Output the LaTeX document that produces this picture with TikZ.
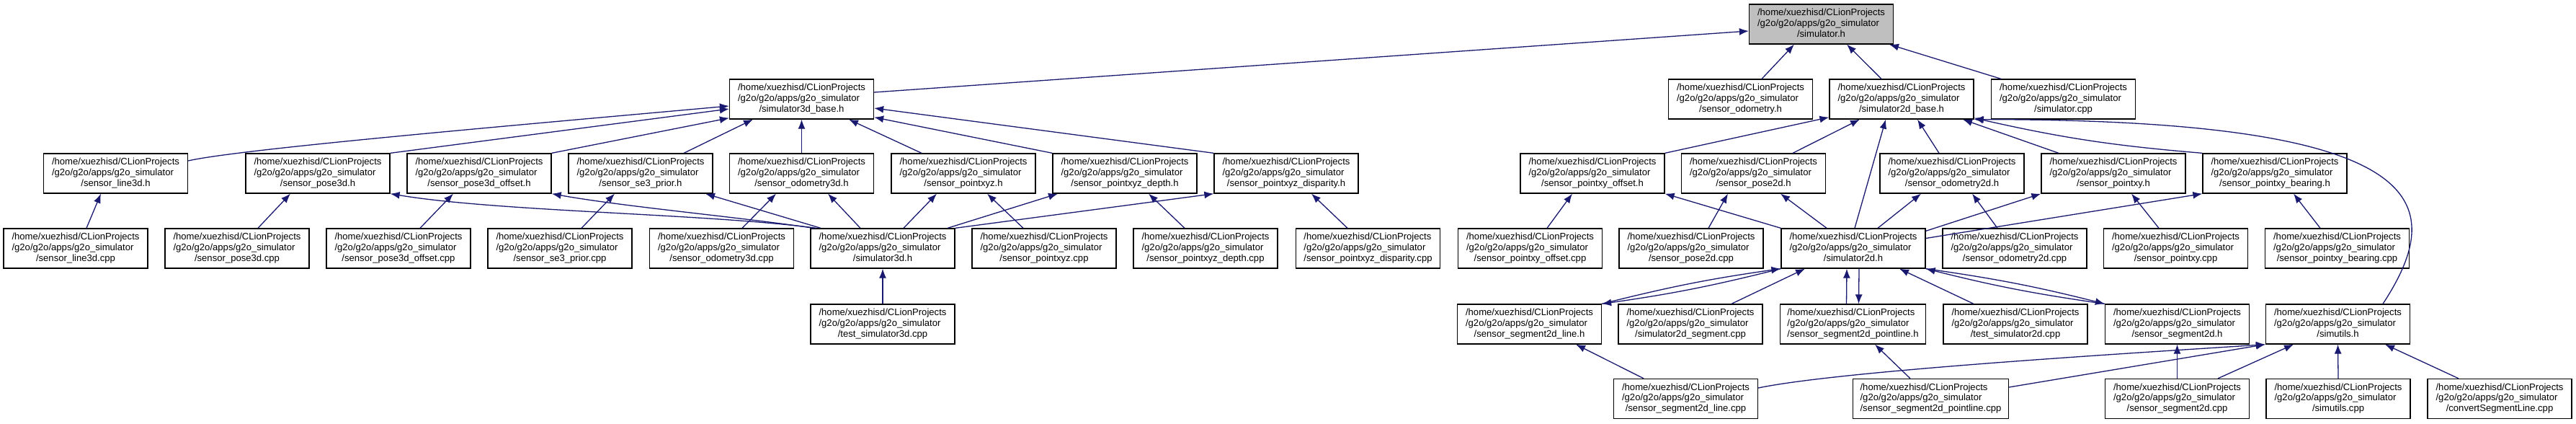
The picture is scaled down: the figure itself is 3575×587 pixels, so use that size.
\documentclass[tikz,border=0pt]{standalone}
\usepackage{fontspec}
\setmainfont{Liberation Sans}
\usetikzlibrary{arrows.meta}
\definecolor{depblue}{HTML}{191970}
\definecolor{curgray}{HTML}{BFBFBF}
\newcommand\incfile[1]{\begin{tabular}{@{}l@{}}/home/xuezhisd/CLionProjects\\/g2o/g2o/apps/g2o\_simulator\\\multicolumn{1}{@{}c@{}}{/#1}\end{tabular}}

\begin{document}
\begin{tikzpicture}[x=1pt,y=1pt,
    hfile/.style={draw=black,line width=1.3pt,fill=white,minimum width=200pt,minimum height=55pt,
      inner xsep=10pt,inner ysep=2pt,font=\fontsize{13.1}{14.6}\selectfont},
    dep/.style={draw=depblue,line width=1.3pt,-{Latex[length=13pt,width=10pt]}}]
  \useasboundingbox (0,0) rectangle (3575,-587);

  % row 1 and 2
  \node[hfile,fill=curgray] (sim) at (2527.5,-33.5) {\incfile{simulator.h}};
  \node[hfile] (s3b) at (1112.5,-137.5) {\incfile{simulator3d\_base.h}};
  \node[hfile] (sodo) at (2415.5,-137.5) {\incfile{sensor\_odometry.h}};
  \node[hfile] (s2b) at (2639,-137.5) {\incfile{simulator2d\_base.h}};
  \node[hfile] (simcpp) at (2863.5,-137.5) {\incfile{simulator.cpp}};

  % row 3
  \node[hfile] (sl3h) at (160.5,-240.5) {\incfile{sensor\_line3d.h}};
  \node[hfile] (sp3h) at (441,-240.5) {\incfile{sensor\_pose3d.h}};
  \node[hfile] (sp3oh) at (665,-240.5) {\incfile{sensor\_pose3d\_offset.h}};
  \node[hfile] (sse3h) at (889,-240.5) {\incfile{sensor\_se3\_prior.h}};
  \node[hfile] (so3h) at (1112.5,-240.5) {\incfile{sensor\_odometry3d.h}};
  \node[hfile] (sxyzh) at (1337,-240.5) {\incfile{sensor\_pointxyz.h}};
  \node[hfile] (sxyzdh) at (1561,-240.5) {\incfile{sensor\_pointxyz\_depth.h}};
  \node[hfile] (sxyzph) at (1785,-240.5) {\incfile{sensor\_pointxyz\_disparity.h}};
  \node[hfile] (sxyoh) at (2210,-240.5) {\incfile{sensor\_pointxy\_offset.h}};
  \node[hfile] (sp2h) at (2433.5,-240.5) {\incfile{sensor\_pose2d.h}};
  \node[hfile] (so2h) at (2709,-240.5) {\incfile{sensor\_odometry2d.h}};
  \node[hfile] (sxyh) at (2933,-240.5) {\incfile{sensor\_pointxy.h}};
  \node[hfile] (sxybh) at (3157,-240.5) {\incfile{sensor\_pointxy\_bearing.h}};

  % row 4
  \node[hfile] (sl3c) at (105,-344.5) {\incfile{sensor\_line3d.cpp}};
  \node[hfile] (sp3c) at (329,-344.5) {\incfile{sensor\_pose3d.cpp}};
  \node[hfile] (sp3oc) at (553,-344.5) {\incfile{sensor\_pose3d\_offset.cpp}};
  \node[hfile] (sse3c) at (777,-344.5) {\incfile{sensor\_se3\_prior.cpp}};
  \node[hfile] (so3c) at (1001.5,-344.5) {\incfile{sensor\_odometry3d.cpp}};
  \node[hfile] (s3h) at (1225,-344.5) {\incfile{simulator3d.h}};
  \node[hfile] (sxyzc) at (1449,-344.5) {\incfile{sensor\_pointxyz.cpp}};
  \node[hfile] (sxyzdc) at (1673,-344.5) {\incfile{sensor\_pointxyz\_depth.cpp}};
  \node[hfile] (sxyzpc) at (1898.5,-344.5) {\incfile{sensor\_pointxyz\_disparity.cpp}};
  \node[hfile] (sxyoc) at (2123.5,-344.5) {\incfile{sensor\_pointxy\_offset.cpp}};
  \node[hfile] (sp2c) at (2347,-344.5) {\incfile{sensor\_pose2d.cpp}};
  \node[hfile] (s2h) at (2572,-344.5) {\incfile{simulator2d.h}};
  \node[hfile] (so2c) at (2796,-344.5) {\incfile{sensor\_odometry2d.cpp}};
  \node[hfile] (sxyc) at (3019.5,-344.5) {\incfile{sensor\_pointxy.cpp}};
  \node[hfile] (sxybc) at (3243.5,-344.5) {\incfile{sensor\_pointxy\_bearing.cpp}};

  % row 5
  \node[hfile] (ts3c) at (1225,-449.5) {\incfile{test\_simulator3d.cpp}};
  \node[hfile] (ss2lh) at (2122.5,-449.5) {\incfile{sensor\_segment2d\_line.h}};
  \node[hfile] (s2segc) at (2346,-449.5) {\incfile{simulator2d\_segment.cpp}};
  \node[hfile] (ss2plh) at (2571.5,-449.5) {\incfile{sensor\_segment2d\_pointline.h}};
  \node[hfile] (ts2c) at (2797,-449.5) {\incfile{test\_simulator2d.cpp}};
  \node[hfile] (ss2h) at (3021.5,-449.5) {\incfile{sensor\_segment2d.h}};
  \node[hfile] (sutilh) at (3244.5,-449.5) {\incfile{simutils.h}};

  % row 6
  \node[hfile] (ss2lc) at (2339.5,-553) {\incfile{sensor\_segment2d\_line.cpp}};
  \node[hfile] (ss2plc) at (2679.5,-553) {\incfile{sensor\_segment2d\_pointline.cpp}};
  \node[hfile] (ss2c) at (3021.5,-553) {\incfile{sensor\_segment2d.cpp}};
  \node[hfile] (sutilc) at (3245,-553) {\incfile{simutils.cpp}};
  \node[hfile] (cslc) at (3469,-553) {\incfile{convertSegmentLine.cpp}};

  % includes of simulator.h
  \draw[dep] ([yshift=9.5pt]s3b.east) -- ([yshift=-9.5pt]sim.west);
  \draw[dep] ([xshift=29.5pt]sodo.north) -- ([xshift=-37.5pt]sim.south);
  \draw[dep] ([xshift=-28pt]s2b.north) -- ([xshift=35.5pt]sim.south);
  \draw[dep] ([xshift=-86.5pt]simcpp.north) -- ([xshift=94.5pt]sim.south);

  % 3d side
  \draw[dep] ([yshift=17.5pt]sl3h.east) .. controls +(70,16) and +(-312,-28) .. ([yshift=-9.5pt]s3b.west);
  \draw[dep] (sp3h.north east) -- ([yshift=-13.5pt]s3b.west);
  \draw[dep] (sp3oh.north east) -- ([yshift=2pt]s3b.south west);
  \draw[dep] ([xshift=60pt]sse3h.north) -- ([xshift=-67.5pt]s3b.south);
  \draw[dep] (so3h.north) -- (s3b.south);
  \draw[dep] ([xshift=-58pt]sxyzh.north) -- ([xshift=65.5pt]s3b.south);
  \draw[dep] (sxyzdh.north west) -- ([yshift=3pt]s3b.south east);
  \draw[dep] (sxyzph.north west) -- ([yshift=-12.5pt]s3b.east);

  \draw[dep] ([xshift=15pt]sl3c.north) -- ([xshift=-20.5pt]sl3h.south);
  \draw[dep] ([xshift=29pt]sp3c.north) -- ([xshift=-38pt]sp3h.south);
  \draw[dep] ([xshift=30pt]sp3oc.north) -- ([xshift=-36pt]sp3oh.south);
  \draw[dep] ([xshift=30pt]sse3c.north) -- ([xshift=-36pt]sse3h.south);
  \draw[dep] ([xshift=28.5pt]so3c.north) -- ([xshift=-35.5pt]so3h.south);
  \draw[dep] ([xshift=-92pt]s3h.north) .. controls +(-150,20) and +(150,-25) .. (sp3h.south east);
  \draw[dep] ([xshift=-96pt]s3h.north) .. controls +(-100,15) and +(100,-18) .. (sp3oh.south east);
  \draw[dep] ([xshift=-86pt]s3h.north) -- ([xshift=90pt]sse3h.south);
  \draw[dep] ([xshift=-31pt]s3h.north) -- ([xshift=36.5pt]so3h.south);
  \draw[dep] ([xshift=29pt]s3h.north) -- ([xshift=-37pt]sxyzh.south);
  \draw[dep] ([xshift=-29pt]sxyzc.north) -- ([xshift=33pt]sxyzh.south);
  \draw[dep] ([xshift=90pt]s3h.north) -- ([xshift=-93pt]sxyzdh.south);
  \draw[dep] ([xshift=-29pt]sxyzdc.north) -- ([xshift=33pt]sxyzdh.south);
  \draw[dep] (s3h.north east) -- (sxyzph.south west);
  \draw[dep] ([xshift=-28.5pt]sxyzpc.north) -- ([xshift=35pt]sxyzph.south);
  \draw[dep] (ts3c.north) -- (s3h.south);

  % 2d side
  \draw[dep] (sxyoh.north east) -- ([yshift=3pt]s2b.south west);
  \draw[dep] ([xshift=54.5pt]sp2h.north) -- ([xshift=-58pt]s2b.south);
  \draw[dep] ([xshift=2pt]s2h.north) -- ([xshift=-22pt]s2b.south);
  \draw[dep] ([xshift=-18pt]so2h.north) -- ([xshift=22pt]s2b.south);
  \draw[dep] ([xshift=-76pt]sxyh.north) -- ([xshift=85pt]s2b.south);
  \draw[dep] (sxybh.north west) to[bend left=4] ([yshift=2pt]s2b.south east);
  \draw[dep] ([xshift=62.5pt]sutilh.north) .. controls +(93,142) and +(635,0) .. (s2b.south east);

  \draw[dep] ([xshift=23.5pt]sxyoc.north) -- ([xshift=-28pt]sxyoh.south);
  \draw[dep] (s2h.north west) -- (sxyoh.south east);
  \draw[dep] ([xshift=24pt]sp2c.north) -- ([xshift=-35.5pt]sp2h.south);
  \draw[dep] ([xshift=-37pt]s2h.north) -- ([xshift=37.5pt]sp2h.south);
  \draw[dep] ([xshift=34pt]s2h.north) -- ([xshift=-43pt]so2h.south);
  \draw[dep] ([xshift=-24pt]so2c.north) -- ([xshift=28pt]so2h.south);
  \draw[dep] ([yshift=-4pt]s2h.north east) -- (sxyh.south west);
  \draw[dep] ([yshift=14pt]s2h.east) -- (sxybh.south west);
  \draw[dep] ([xshift=-23.5pt]sxyc.north) -- ([xshift=25pt]sxyh.south);
  \draw[dep] ([xshift=-23.5pt]sxybc.north) -- ([xshift=26pt]sxybh.south);

  \draw[dep] (ss2lh.north east) to[bend left=3] (s2h.south west);
  \draw[dep] (s2h.south west) to[bend left=3] (ss2lh.north east);
  \draw[dep] ([xshift=57pt]s2segc.north) -- ([xshift=-67pt]s2h.south);
  \draw[dep] ([xshift=-9pt]ss2plh.north) -- ([xshift=-9pt]s2h.south);
  \draw[dep] ([xshift=8pt]s2h.south) -- ([xshift=8pt]ss2plh.north);
  \draw[dep] ([xshift=-58pt]ts2c.north) -- ([xshift=64pt]s2h.south);
  \draw[dep] (ss2h.north west) to[bend left=3] (s2h.south east);
  \draw[dep] (s2h.south east) to[bend left=3] (ss2h.north west);

  \draw[dep] ([xshift=-58.5pt]ss2lc.north) -- ([xshift=64.5pt]ss2lh.south);
  \draw[dep] ([yshift=15pt]ss2lc.east) .. controls +(120,25) and +(-150,-10) .. (sutilh.south west);
  \draw[dep] ([xshift=-28.5pt]ss2plc.north) -- ([xshift=30.5pt]ss2plh.south);
  \draw[dep] ([yshift=16pt]ss2plc.east) -- (sutilh.south west);
  \draw[dep] (ss2c.north) -- (ss2h.south);
  \draw[dep] ([xshift=56.5pt]ss2c.north) -- ([xshift=-61.5pt]sutilh.south);
  \draw[dep] (sutilc.north) -- (sutilh.south);
  \draw[dep] ([xshift=-57pt]cslc.north) -- ([xshift=65.5pt]sutilh.south);
\end{tikzpicture}
\end{document}
